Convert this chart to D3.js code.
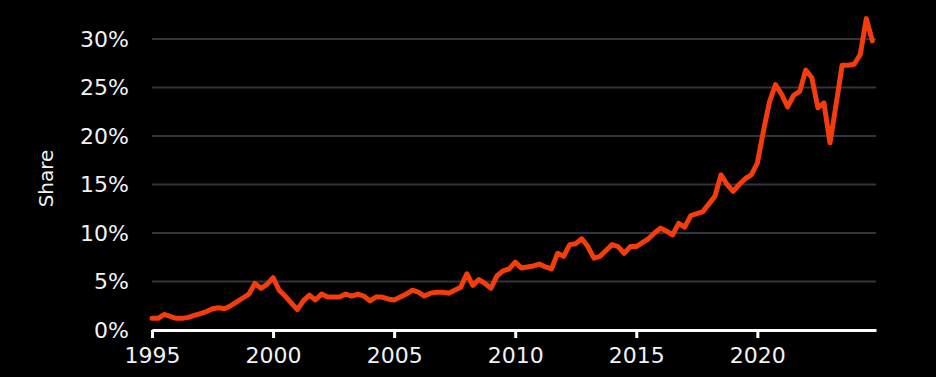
<!DOCTYPE html>
<html>
<head>
<meta charset="utf-8">
<script src="https://cdn.jsdelivr.net/npm/d3@7"></script>
<style>
    html, body { margin: 0; padding: 0; background: #000; }
    svg { display: block; }
</style>
</head>
<body>
<svg></svg>
<script>
// quarterly share, 1995 Q1 .. 2024 Q4
const startYear = 1995;
const shareValues = [
    1.2, 1.2, 1.6, 1.4,
    1.2, 1.2, 1.3, 1.5,
    1.7, 1.9, 2.2, 2.3,
    2.2, 2.5, 2.9, 3.3,
    3.7, 4.8, 4.3, 4.7,
    5.4, 4.1, 3.5, 2.8,
    2.1, 3.0, 3.6, 3.1,
    3.7, 3.4, 3.4, 3.4,
    3.7, 3.5, 3.7, 3.5,
    3.0, 3.4, 3.4, 3.2,
    3.1, 3.4, 3.7, 4.1,
    3.9, 3.5, 3.8, 3.9,
    3.9, 3.8, 4.1, 4.4,
    5.8, 4.6, 5.2, 4.8,
    4.3, 5.6, 6.1, 6.3,
    7.0, 6.4, 6.5, 6.6,
    6.8, 6.5, 6.3, 7.9,
    7.6, 8.8, 8.9, 9.4,
    8.6, 7.4, 7.6, 8.2,
    8.8, 8.6, 7.9, 8.6,
    8.6, 9.0, 9.4, 10.0,
    10.5, 10.2, 9.8, 11.0,
    10.6, 11.8, 12.0, 12.2,
    13.0, 13.8, 16.0, 15.0,
    14.3, 15.0, 15.6, 16.0,
    17.2, 20.5, 23.5, 25.3,
    24.3, 23.0, 24.2, 24.6,
    26.8, 26.0, 22.9, 23.4,
    19.3, 23.2, 27.3, 27.3,
    27.4, 28.4, 32.1, 29.8
];
const yearTicks = [1995, 2000, 2005, 2010, 2015, 2020];
const shareTicks = [0, 5, 10, 15, 20, 25, 30];

const width = 936;
const height = 377;
const margin = { top: 39, right: 60, bottom: 47, left: 152 };

const data = shareValues.map((v, i) => ({ year: startYear + i / 4, value: v }));

const svg = d3.select('svg')
    .attr('width', width)
    .attr('height', height)
    .style('background', '#000');

const xScale = d3.scaleLinear()
    .domain([1995, 2024.9])
    .range([margin.left, width - margin.right]);

const yScale = d3.scaleLinear()
    .domain([0, 30])
    .range([height - margin.bottom, margin.top]);

const font = "'DejaVu Sans', sans-serif";
const textColor = '#f2f2f2';

// gridlines
svg.append('g')
    .selectAll('line')
    .data(shareTicks.filter(d => d > 0))
    .enter().append('line')
    .attr('x1', margin.left)
    .attr('x2', width - margin.right)
    .attr('y1', d => yScale(d))
    .attr('y2', d => yScale(d))
    .attr('stroke', '#34343c')
    .attr('stroke-width', 2);

// y axis (labels only)
let yAxis = g => g
    .attr('transform', `translate(${margin.left - 23}, 0)`)
    .call(d3.axisLeft(yScale).tickValues(shareTicks).tickFormat(d => d + '%').tickSize(0).tickPadding(0))
    .call(g => g.select('.domain').remove())
    .call(g => g.selectAll('text')
        .attr('fill', textColor)
        .style('font-family', font)
        .style('font-size', '22px'));

svg.append('g').call(yAxis);

// x axis
let xAxis = g => g
    .attr('transform', `translate(0, ${height - margin.bottom})`)
    .call(d3.axisBottom(xScale).tickValues(yearTicks).tickFormat(d3.format('d')).tickSizeOuter(0).tickSizeInner(8).tickPadding(9))
    .call(g => g.select('.domain').attr('stroke', '#fff').attr('stroke-width', 3))
    .call(g => g.selectAll('.tick line').attr('stroke', '#fff').attr('stroke-width', 3))
    .call(g => g.selectAll('text')
        .attr('fill', textColor)
        .style('font-family', font)
        .style('font-size', '22px'));

svg.append('g').call(xAxis);

// y label
svg.append('text')
    .attr('transform', `translate(53, ${yScale(15) - 6}) rotate(-90)`)
    .attr('text-anchor', 'middle')
    .attr('fill', textColor)
    .style('font-family', font)
    .style('font-size', '20px')
    .text('Share');

// line
const line = d3.line()
    .x(d => xScale(d.year))
    .y(d => yScale(d.value));

svg.append('path')
    .datum(data)
    .attr('fill', 'none')
    .attr('stroke', '#f53c0c')
    .attr('stroke-width', 5)
    .attr('stroke-linejoin', 'round')
    .attr('stroke-linecap', 'round')
    .attr('d', line);
</script>
</body>
</html>
